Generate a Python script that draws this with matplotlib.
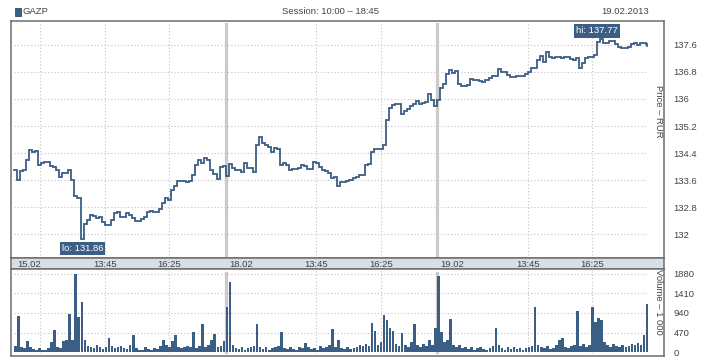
import numpy as np
import matplotlib
matplotlib.use("Agg")
import matplotlib.pyplot as plt
from matplotlib.patches import Rectangle

plt.rcParams['font.family'] = ['Liberation Sans', 'DejaVu Sans']

# ---------------- data ----------------
ticker = "GAZP"
session_label = "Session: 10:00 \u2013 18:45"
date_label = "19.02.2013"
day_labels = ["15.02", "18.02", "19.02"]
time_tick_labels = ["13:45", "16:25"]
time_tick_minutes = [225, 385]          # minutes after session open 10:00
first_day_grid_minute = 65              # 11:05 grid line on first day
session_minutes = 525                   # 10:00 - 18:45
bar_minutes = 7.5

price_day1 = [133.90, 133.61, 133.87, 133.90, 134.20, 134.49, 134.44, 134.46, 134.05, 134.11,
              134.14, 134.14, 134.02, 133.99, 133.90, 133.70, 133.82, 133.82, 133.90, 133.61,
              133.14, 133.08, 131.86, 132.31, 132.43, 132.58, 132.55, 132.49, 132.52, 132.37,
              132.28, 132.28, 132.43, 132.63, 132.66, 132.52, 132.52, 132.63, 132.58, 132.49,
              132.40, 132.40, 132.46, 132.52, 132.66, 132.69, 132.66, 132.66, 132.75, 132.93,
              133.08, 133.02, 133.31, 133.43, 133.58, 133.58, 133.58, 133.55, 133.58, 133.76,
              134.05, 134.20, 134.11, 134.26, 134.20, 133.90, 133.79, 133.64, 133.99, 134.02]
price_day2 = [133.73, 134.08, 133.96, 133.90, 133.90, 133.85, 134.11, 133.96, 133.96, 133.85,
              134.64, 134.88, 134.70, 134.64, 134.58, 134.44, 134.55, 134.52, 134.05, 134.11,
              134.05, 133.90, 133.93, 133.93, 133.96, 134.05, 134.02, 133.93, 133.93, 134.14,
              134.11, 133.99, 133.90, 133.87, 133.82, 133.67, 133.70, 133.43, 133.55, 133.55,
              133.58, 133.61, 133.67, 133.70, 133.76, 133.76, 134.05, 134.08, 134.44, 134.52,
              134.52, 134.52, 134.64, 135.38, 135.73, 135.82, 135.85, 135.85, 135.56, 135.65,
              135.70, 135.79, 135.85, 135.94, 135.85, 135.88, 135.91, 136.15, 135.97, 135.79]
price_day3 = [135.97, 136.32, 136.44, 136.74, 136.86, 136.77, 136.83, 136.44, 136.38, 136.38,
              136.41, 136.59, 136.56, 136.56, 136.53, 136.50, 136.56, 136.62, 136.68, 136.68,
              136.89, 136.80, 136.80, 136.71, 136.65, 136.65, 136.68, 136.68, 136.68, 136.74,
              136.80, 136.92, 136.92, 137.15, 137.27, 137.09, 137.39, 137.24, 137.21, 137.24,
              137.24, 137.21, 137.24, 137.24, 137.18, 137.15, 137.21, 136.92, 137.06, 137.21,
              137.24, 137.24, 137.30, 137.68, 137.77, 137.65, 137.65, 137.71, 137.71, 137.62,
              137.54, 137.51, 137.51, 137.54, 137.62, 137.65, 137.59, 137.65, 137.65, 137.62]
close_price = 137.56

volume_day1 = [150, 867, 120, 90, 272, 110, 70, 60, 100, 60,
               40, 90, 250, 530, 110, 90, 260, 285, 916, 300,
               1880, 851, 1213, 280, 150, 120, 90, 160, 110, 80,
               130, 330, 140, 90, 120, 150, 100, 70, 180, 410,
               90, 60, 40, 110, 80, 60, 100, 70, 140, 290,
               160, 120, 270, 410, 130, 90, 110, 150, 120, 490,
               100, 140, 675, 120, 160, 280, 434, 110, 150, 265]
volume_day2 = [1092, 1695, 160, 100, 80, 120, 60, 90, 130, 150,
               675, 130, 80, 110, 60, 90, 120, 150, 490, 100,
               70, 130, 80, 60, 110, 90, 225, 120, 80, 100,
               60, 140, 90, 110, 160, 562, 120, 290, 100, 80,
               130, 70, 100, 120, 180, 140, 200, 150, 707, 506,
               180, 250, 892, 771, 578, 506, 200, 150, 466, 180,
               120, 230, 675, 160, 130, 200, 150, 290, 180, 586]
volume_day3 = [1831, 490, 250, 290, 795, 180, 120, 160, 90, 110,
               70, 130, 60, 90, 110, 80, 60, 100, 150, 570,
               160, 90, 60, 110, 80, 130, 70, 100, 60, 90,
               120, 150, 1085, 180, 110, 90, 140, 70, 100, 160,
               290, 330, 120, 90, 150, 180, 988, 140, 200, 110,
               170, 1085, 731, 819, 770, 250, 180, 130, 200, 150,
               110, 170, 120, 150, 200, 180, 220, 170, 410, 1165]

price_ticks = [132.0, 132.8, 133.6, 134.4, 135.2, 136.0, 136.8, 137.6]
price_tick_labels = ["132", "132.8", "133.6", "134.4", "135.2", "136", "136.8", "137.6"]
volume_ticks = [0, 470, 940, 1410, 1880]
volume_tick_labels = ["0", "470", "940", "1410", "1880"]

# ---------------- styling ----------------
LINE = "#3b5e85"
FRAME = "#6e6e6e"
GRID = "#c2c2c2"
SEP = "#cbcbcb"
STRIP = "#d6dee6"
TXT = "#444444"
FS = 6.8

W, H = 718, 360
fig = plt.figure(figsize=(W / 100, H / 100), dpi=100)
fig.patch.set_facecolor("white")


def fx(px):
    return px / W


def fy(py):
    return 1 - py / H


L, R = 11, 664
ax_p = fig.add_axes([fx(L), fy(258), fx(R) - fx(L), fy(21) - fy(258)])
ax_s = fig.add_axes([fx(L), fy(269), fx(R) - fx(L), fy(258) - fy(269)])
ax_v = fig.add_axes([fx(L), fy(356), fx(R) - fx(L), fy(269) - fy(356)])

days_prices = [price_day1, price_day2, price_day3]
days_volumes = [volume_day1, volume_day2, volume_day3]
t_all, p_all, v_all = [], [], []
for d, (pp, vv) in enumerate(zip(days_prices, days_volumes)):
    t = d * session_minutes + np.arange(len(pp)) * bar_minutes
    t_all.append(t)
    p_all.append(pp)
    v_all.append(vv)
t_all = np.concatenate(t_all)
p_all = np.concatenate(p_all)
v_all = np.concatenate(v_all)
n_days = len(days_prices)
t_end = n_days * session_minutes - bar_minutes / 2
xlim = (-7.5, 1613)

for ax in (ax_p, ax_s, ax_v):
    ax.set_xlim(*xlim)
    for sp in ax.spines.values():
        sp.set_color(FRAME)
        sp.set_linewidth(1.1)
    ax.set_xticks([])

ax_s.set_facecolor(STRIP)
ax_s.set_yticks([])

# grid positions
grid_x = [first_day_grid_minute]
for d in range(n_days):
    grid_x += [d * session_minutes + m for m in time_tick_minutes]
sep_x = [d * session_minutes for d in range(1, n_days)]

dot = (0, (1, 2))
# price panel
ax_p.set_ylim(131.306, 138.30)
ax_p.hlines(price_ticks, 0, t_end, colors=GRID, linestyles=dot, linewidth=0.8, zorder=1)
for gx in grid_x:
    ax_p.axvline(gx, ymin=0.012, ymax=0.988, color=GRID, linestyle=dot, linewidth=0.8, zorder=1)
for sx in sep_x:
    ax_p.axvline(sx, ymin=0.012, ymax=0.988, color=SEP, linewidth=2.3, zorder=2)

tt = np.append(t_all, t_end)
pp = np.append(p_all, close_price)
ax_p.plot(tt, pp, color=LINE, linewidth=1.3, drawstyle="steps-post", zorder=3,
          solid_joinstyle="miter")

ax_p.yaxis.tick_right()
ax_p.set_yticks(price_ticks)
ax_p.set_yticklabels(price_tick_labels)
ax_p.tick_params(axis="y", length=0, pad=7, labelsize=FS, labelcolor=TXT)
ax_p.text(0.9915, 0.62, "Price \u2013 RUR", transform=ax_p.transAxes, rotation=270,
          ha="center", va="center", fontsize=FS, color=TXT)

# lo / hi labels
i_lo = int(np.argmin(p_all))
i_hi = int(np.argmax(p_all))
box = dict(boxstyle="square,pad=0.22", fc=LINE, ec="none")
ax_p.annotate(f"lo: {p_all[i_lo]:.2f}", xy=(t_all[i_lo], p_all[i_lo]), xytext=(2, -9),
              textcoords="offset pixels", ha="center", va="center", fontsize=FS,
              color="white", bbox=box, zorder=5)
ax_p.annotate(f"hi: {p_all[i_hi]:.2f}", xy=(t_all[i_hi], p_all[i_hi]), xytext=(-3, 8),
              textcoords="offset pixels", ha="center", va="center", fontsize=FS,
              color="white", bbox=box, zorder=5)

# date/time strip
for d, lab in enumerate(day_labels):
    ax_s.text(d * session_minutes + 9, 0.45, lab, ha="left", va="center",
              fontsize=FS, color=TXT, transform=ax_s.get_xaxis_transform())
    for m, lab2 in zip(time_tick_minutes, time_tick_labels):
        ax_s.text(d * session_minutes + m, 0.45, lab2, ha="center", va="center",
                  fontsize=FS, color=TXT, transform=ax_s.get_xaxis_transform())

# volume panel
ax_v.set_ylim(-96, 2000)
ax_v.hlines(volume_ticks[1:], 0, t_end, colors=GRID, linestyles=dot, linewidth=0.8, zorder=1)
for gx in grid_x:
    ax_v.axvline(gx, ymin=0.046, ymax=0.98, color=GRID, linestyle=dot, linewidth=0.8, zorder=1)
for sx in sep_x:
    ax_v.axvline(sx, ymin=0.046, ymax=0.954, color=SEP, linewidth=2.3, zorder=2)
ax_v.bar(t_all, v_all, width=6.5, align="edge", color=LINE, linewidth=0, zorder=3)
ax_v.yaxis.tick_right()
ax_v.set_yticks(volume_ticks)
ax_v.set_yticklabels(volume_tick_labels)
ax_v.tick_params(axis="y", length=0, pad=7, labelsize=FS, labelcolor=TXT)
ax_v.text(0.9915, 0.62, "Volume \u2013 1 000", transform=ax_v.transAxes, rotation=270,
          ha="center", va="center", fontsize=FS, color=TXT)

# header
fig.add_artist(Rectangle((fx(14.5), fy(15.5)), fx(6.5), 7 / H, transform=fig.transFigure,
                         facecolor=LINE, edgecolor="#2c4a6b", linewidth=0.6))
fig.text(fx(22.5), fy(12), ticker, ha="left", va="center", fontsize=FS, color=TXT)
fig.text(fx(331), fy(12), session_label, ha="center", va="center", fontsize=FS, color=TXT)
fig.text(fx(649), fy(12), date_label, ha="right", va="center", fontsize=FS, color=TXT)

fig.savefig("out.png", dpi=100, facecolor="white")
